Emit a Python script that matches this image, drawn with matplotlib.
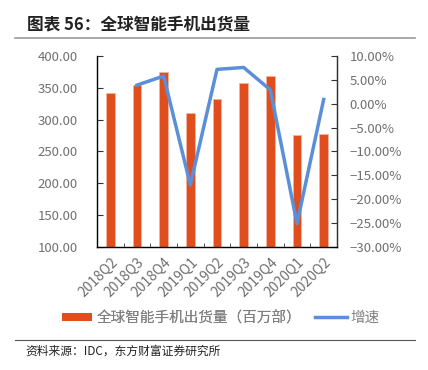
import matplotlib
matplotlib.use("Agg")
import matplotlib.pyplot as plt
from matplotlib.lines import Line2D
from matplotlib.patches import Patch
from matplotlib.ticker import FuncFormatter

plt.rcParams['font.family'] = ['Noto Sans CJK SC', 'DejaVu Sans']

categories = ['2018Q2', '2018Q3', '2018Q4', '2019Q1', '2019Q2', '2019Q3', '2019Q4', '2020Q1', '2020Q2']
shipments = [342, 355, 375, 311, 333, 358, 369, 276, 278]
growth = [None, 3.9, 5.8, -17.0, 7.2, 7.6, 2.9, -25.1, 0.9]

orange = '#E04E1E'
blue = '#5B8FD9'
gray = '#707070'

fig = plt.figure(figsize=(4.28, 3.70), dpi=100)
ax = fig.add_axes([97/428, 1-247/370, 240/428, 191/370])
x = list(range(len(categories)))
ax.bar(x, shipments, width=0.33, color=orange, edgecolor='#F2B5A0', linewidth=0.6)
ax.set_ylim(100, 400)
ax.set_xlim(-0.5, len(categories)-0.5)
ax.set_yticks(range(100, 401, 50))
ax.yaxis.set_major_formatter(FuncFormatter(lambda v, p: f"{v:.2f}"))
ax.set_xticks(x)
ax.set_xticklabels(categories, rotation=45, ha='right', rotation_mode='anchor', color=gray, fontsize=10)
ax.set_xticks([i+0.5 for i in x[:-1]], minor=True)
ax.tick_params(axis='x', which='major', length=0, pad=6)
ax.tick_params(axis='x', which='minor', direction='in', length=3, color='#333333')
ax.tick_params(axis='y', direction='in', length=4, labelsize=9.5, labelcolor=gray, color='#333333', pad=14)
ax.spines['top'].set_visible(False)
for s in ['left', 'bottom', 'right']:
    ax.spines[s].set_color('#333333')
    ax.spines[s].set_linewidth(1.0)

ax2 = ax.twinx()
gx = [i for i, g in zip(x, growth) if g is not None]
gy = [g for g in growth if g is not None]
ax2.plot(gx, gy, color=blue, linewidth=2.5)
ax2.set_ylim(-30, 10)
ax2.set_yticks(range(-30, 11, 5))
ax2.yaxis.set_major_formatter(FuncFormatter(lambda v, p: f"{v:.2f}%".replace('-', '−')))
ax2.tick_params(axis='y', direction='in', length=4, labelsize=9.5, labelcolor=gray, color='#333333', pad=9)
ax2.spines['top'].set_visible(False)
ax2.spines['right'].set_color('#333333')

# title
fig.text(27/428, 1-24/370, '图表 56：全球智能手机出货量', fontsize=12, fontweight='bold', color='#222222', va='center', ha='left')
fig.add_artist(Line2D([15/428, 415/428], [1-38/370, 1-38/370], color='#999999', linewidth=1.2))
fig.add_artist(Line2D([15/428, 415/428], [1-340/370, 1-340/370], color='#555555', linewidth=0.8))
fig.text(25/428, 1-351/370, '资料来源：IDC，东方财富证券研究所', fontsize=8.5, color='#222222', va='center', ha='left')

leg1 = fig.legend([Patch(facecolor=orange, edgecolor='none')], ['全球智能手机出货量（百万部）'],
                  loc='center left', bbox_to_anchor=(62/428, 1-318/370), frameon=False,
                  prop={'size': 10.5, 'weight': 'light'},
                  labelcolor='#808080', handlelength=2.05, handleheight=0.5, handletextpad=0.3,
                  borderpad=0, borderaxespad=0)
fig.add_artist(leg1)
leg2 = fig.legend([Line2D([0], [0], color=blue, linewidth=2.5)], ['增速'],
                  loc='center left', bbox_to_anchor=(315/428, 1-318/370), frameon=False,
                  prop={'size': 10.5, 'weight': 'light'},
                  labelcolor='#808080', handlelength=2.2, handletextpad=0.2,
                  borderpad=0, borderaxespad=0)

fig.savefig('out.png', dpi=100)
